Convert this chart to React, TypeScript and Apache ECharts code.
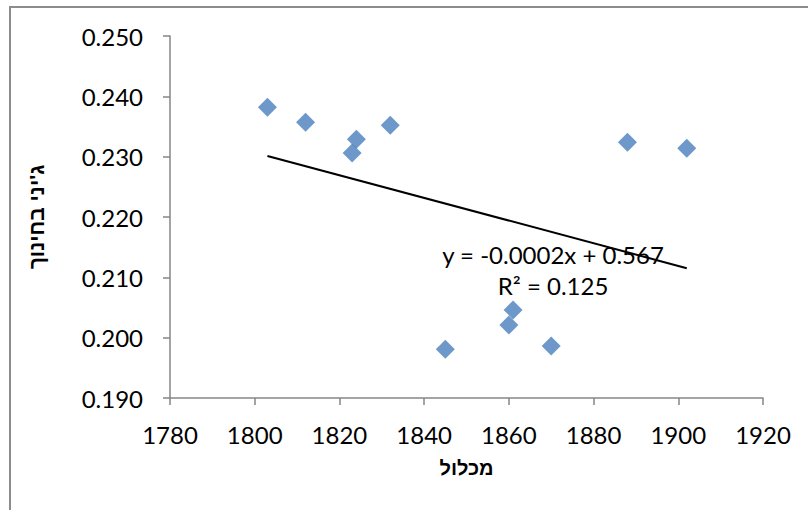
import React, { useEffect, useRef } from "react";
import * as echarts from "echarts";

const xValues = [1803, 1812, 1823, 1824, 1832, 1845, 1860, 1861, 1870, 1888, 1902];
const yValues = [0.2382, 0.2357, 0.2306, 0.2329, 0.2352, 0.1981, 0.2021, 0.2046, 0.1986, 0.2324, 0.2314];
const xAxisTitle = "מכלול";
const yAxisTitle = "ג'יני בחינוך";
const equationText = "y = -0.0002x + 0.567";
const r2Text = "R² = 0.125";

function linearFit(xs: number[], ys: number[]) {
  const n = xs.length;
  const mx = xs.reduce((a, b) => a + b, 0) / n;
  const my = ys.reduce((a, b) => a + b, 0) / n;
  let sxy = 0;
  let sxx = 0;
  for (let i = 0; i < n; i++) {
    sxy += (xs[i] - mx) * (ys[i] - my);
    sxx += (xs[i] - mx) * (xs[i] - mx);
  }
  const slope = sxy / sxx;
  return { slope, intercept: my - slope * mx };
}

export default function App() {
  const ref = useRef<HTMLDivElement>(null);
  useEffect(() => {
    document.body.style.margin = "0";
    const chart = echarts.init(ref.current!, null, { renderer: "svg" });
    const fit = linearFit(xValues, yValues);
    const minX = Math.min(...xValues);
    const maxX = Math.max(...xValues);
    const trend = [
      [minX, fit.intercept + fit.slope * minX],
      [maxX, fit.intercept + fit.slope * maxX],
    ];
    const tickFont = "Lato, 'Open Sans', sans-serif";
    const axisColor = "#868686";
    const titleFont = "'Liberation Sans', Arial, sans-serif";
    chart.setOption({
      animation: false,
      backgroundColor: "#ffffff",
      grid: { left: 170, right: 45, top: 36, bottom: 112 },
      xAxis: {
        type: "value",
        min: 1780,
        max: 1920,
        interval: 20,
        splitLine: { show: false },
        axisLine: { show: true, lineStyle: { color: axisColor, width: 1.5 } },
        axisTick: { show: true, length: 7, lineStyle: { color: axisColor, width: 1.5 } },
        axisLabel: {
          color: "#000",
          fontSize: 24,
          fontFamily: tickFont,
          margin: 24,
          formatter: (v: number) => String(v),
        },
        name: xAxisTitle,
        nameLocation: "middle",
        nameGap: 60,
        nameTextStyle: { color: "#000", fontSize: 20, fontWeight: "bold", fontFamily: titleFont },
      },
      yAxis: {
        type: "value",
        min: 0.19,
        max: 0.25,
        interval: 0.01,
        splitLine: { show: false },
        axisLine: { show: true, lineStyle: { color: axisColor, width: 1.5 } },
        axisTick: { show: true, length: 7, lineStyle: { color: axisColor, width: 1.5 } },
        axisLabel: {
          color: "#000",
          fontSize: 24,
          fontFamily: tickFont,
          margin: 27,
          formatter: (v: number) => v.toFixed(3),
        },
        name: yAxisTitle,
        nameLocation: "middle",
        nameGap: 123,
        nameTextStyle: { color: "#000", fontSize: 21, fontWeight: "bold", fontFamily: titleFont },
      },
      graphic: [
        {
          type: "rect",
          shape: { x: 10, y: 7, width: 1000, height: 1000 },
          style: { fill: "none", stroke: "#8c8c8c", lineWidth: 2 },
          silent: true,
        },
        {
          type: "text",
          x: 553,
          y: 254,
          style: { text: equationText, fill: "#000", font: "24px Lato, 'Open Sans', sans-serif", textAlign: "center", textVerticalAlign: "middle" },
          z: 1,
        },
        {
          type: "text",
          x: 553,
          y: 285,
          style: { text: r2Text, fill: "#000", font: "24px Lato, 'Open Sans', sans-serif", textAlign: "center", textVerticalAlign: "middle" },
          z: 1,
        },
      ],
      series: [
        {
          type: "scatter",
          data: xValues.map((x, i) => [x, yValues[i]]),
          symbol: "diamond",
          symbolSize: 19,
          itemStyle: { color: "#4A7EBB" },
          z: 3,
        },
        {
          type: "line",
          data: trend,
          symbol: "none",
          lineStyle: { color: "#000", width: 2 },
          z: 4,
        },
      ],
    });
    return () => chart.dispose();
  }, []);
  return <div ref={ref} style={{ width: 808, height: 510 }} />;
}
